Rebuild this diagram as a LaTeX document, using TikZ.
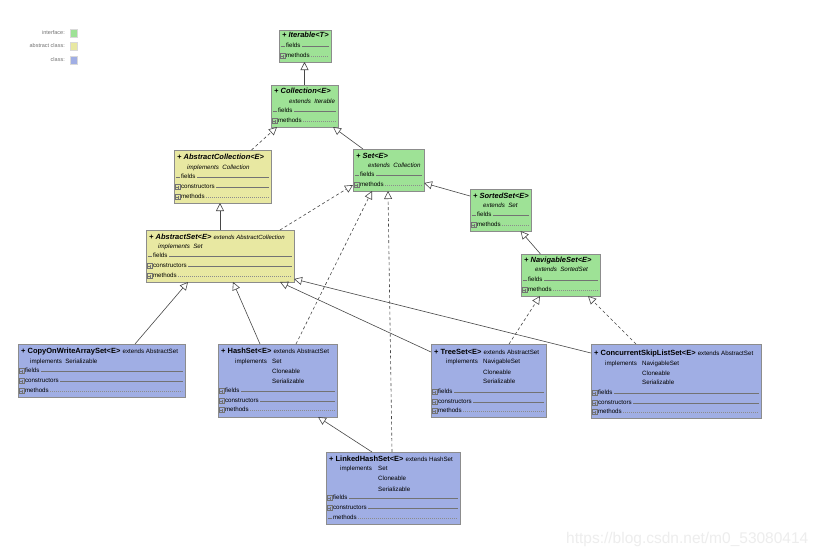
\documentclass[tikz,border=0pt]{standalone}
\usepackage{fontspec}
\setmainfont{Liberation Sans}
\usetikzlibrary{arrows.meta}
\definecolor{ifc}{RGB}{158,226,150}
\definecolor{abs}{RGB}{232,232,162}
\definecolor{cls}{RGB}{160,174,228}
\newcommand\smf{\fontsize{6.2}{7}\selectfont}
\tikzset{
  umlbox/.style={draw=black!45, line width=0.6pt, inner sep=0pt, outer sep=0pt, anchor=north west},
  ttl/.style={font=\fontsize{7.5}{8}\selectfont\bfseries, anchor=west, inner sep=0pt, text height=5.4pt, text depth=1.4pt},
  sm/.style={font=\smf, anchor=west, inner sep=0pt, text height=4.5pt, text depth=1.2pt},
  sep/.style={draw=black!55, line width=0.5pt},
  dsep/.style={draw=black!45, line width=0.5pt, dash pattern=on 1pt off 1pt},
  gen/.style={draw=black!72, line width=0.6pt, -{Triangle[open, width=8pt, length=8pt]}},
  real/.style={gen, dash pattern=on 3pt off 2.5pt},
  leg/.style={font=\fontsize{5.5}{6}\selectfont, text=black!55, anchor=east, inner sep=0pt},
  legsq/.style={draw=black!15, line width=0.3pt, minimum size=7.5pt, inner sep=0pt},
}
\newcommand\ubox[6]{\node[umlbox,fill=#6,minimum width=#4pt,minimum height=#5pt] (#1) at (#2,#3) {};}
\newcommand\prow[6]{%
  \draw[sep] (#2+1.5,#4-2.3) rectangle (#2+6.1,#4+2.3);
  \draw[sep] (#2+2.3,#4) -- (#2+5.3,#4) (#2+3.8,#4-1.5) -- (#2+3.8,#4+1.5);
  \node[sm] (#1) at (#2+6.8,#4) {#5};
  \draw[#6] ([xshift=1.5pt]#1.east) -- (#3-2.5,#4);
}
\newcommand\drow[6]{%
  \draw[sep] (#2+1.5,#4) -- (#2+5.5,#4);
  \node[sm] (#1) at (#2+6.8,#4) {#5};
  \draw[#6] ([xshift=1.5pt]#1.east) -- (#3-2.5,#4);
}
\begin{document}
\begin{tikzpicture}[x=1pt,y=-1pt]
\useasboundingbox[fill=white] (0,0) rectangle (823,557);

% legend
\node[leg] (l1) at (65,33) {interface:};
\node[legsq,fill=ifc] (s1) at (73.5,33) {};
\node[leg] (l2) at (65,46) {abstract class:};
\node[legsq,fill=abs] (s2) at (73.5,46) {};
\node[leg] (l3) at (65,60) {class:};
\node[legsq,fill=cls] (s3) at (73.5,60) {};

% Iterable
\ubox{iter}{279}{30}{52}{32}{ifc}
\node[ttl] (iterT) at (282,35.5) {\itshape + Iterable<T>};
\drow{iterF}{279}{331}{46}{fields}{sep}
\prow{iterM}{279}{331}{56}{methods}{dsep}

% Collection
\ubox{coll}{271}{85}{67}{42}{ifc}
\node[ttl] (collT) at (274,91.5) {\itshape + Collection<E>};
\node[sm] (collX) at (289,102) {\itshape extends\ \ Iterable};
\drow{collF}{271}{338}{111}{fields}{sep}
\prow{collM}{271}{338}{121}{methods}{dsep}

% AbstractCollection
\ubox{abscoll}{174}{150}{97}{53}{abs}
\node[ttl] (abscollT) at (177,157) {\itshape + AbstractCollection<E>};
\node[sm] (abscollX) at (187,168) {\itshape implements\ \ Collection};
\drow{abscollF}{174}{271}{177}{fields}{sep}
\prow{abscollC}{174}{271}{187}{constructors}{sep}
\prow{abscollM}{174}{271}{197}{methods}{dsep}

% Set
\ubox{set}{353}{149}{71}{42}{ifc}
\node[ttl] (setT) at (356,156) {\itshape + Set<E>};
\node[sm] (setX) at (368,166) {\itshape extends\ \ Collection};
\drow{setF}{353}{424}{175}{fields}{sep}
\prow{setM}{353}{424}{185}{methods}{dsep}

% SortedSet
\ubox{sorted}{470}{189}{61}{42}{ifc}
\node[ttl] (sortedT) at (473,196) {\itshape + SortedSet<E>};
\node[sm] (sortedX) at (483,206) {\itshape extends\ \ Set};
\drow{sortedF}{470}{531}{215}{fields}{sep}
\prow{sortedM}{470}{531}{225}{methods}{dsep}

% NavigableSet
\ubox{nav}{521}{254}{79}{42}{ifc}
\node[ttl] (navT) at (524,260) {\itshape + NavigableSet<E>};
\node[sm] (navX) at (535,270) {\itshape extends\ \ SortedSet};
\drow{navF}{521}{600}{280}{fields}{sep}
\prow{navM}{521}{600}{290}{methods}{dsep}

% AbstractSet
\ubox{absset}{146}{230}{148}{52}{abs}
\node[ttl] (abssetT) at (149,237) {\itshape + AbstractSet<E> {\fontsize{6}{7}\selectfont\mdseries extends AbstractCollection}};
\node[sm] (abssetX) at (158,247) {\itshape implements\ \ Set};
\drow{abssetF}{146}{294}{256}{fields}{sep}
\prow{abssetC}{146}{294}{266}{constructors}{sep}
\prow{abssetM}{146}{294}{276}{methods}{dsep}

% CopyOnWriteArraySet
\ubox{cow}{18}{344}{167}{53}{cls}
\node[ttl] (cowT) at (21,351) {+ CopyOnWriteArraySet<E> {\smf\mdseries extends AbstractSet}};
\node[sm] (cowX) at (30,362) {implements\ \ Serializable};
\prow{cowF}{18}{185}{371}{fields}{sep}
\prow{cowC}{18}{185}{381}{constructors}{sep}
\prow{cowM}{18}{185}{391}{methods}{dsep}

% HashSet
\ubox{hash}{218}{344}{119}{73}{cls}
\node[ttl] (hashT) at (221,351) {+ HashSet<E> {\smf\mdseries extends AbstractSet}};
\node[sm] (hashI) at (235,362) {implements};
\node[sm] (hashI1) at (272,362) {Set};
\node[sm] (hashI2) at (272,372) {Cloneable};
\node[sm] (hashI3) at (272,382) {Serializable};
\prow{hashF}{218}{337}{391}{fields}{sep}
\prow{hashC}{218}{337}{401}{constructors}{sep}
\prow{hashM}{218}{337}{410}{methods}{dsep}

% TreeSet
\ubox{tree}{431}{344}{115}{73}{cls}
\node[ttl] (treeT) at (434,352) {+ TreeSet<E> {\smf\mdseries extends AbstractSet}};
\node[sm] (treeI) at (446,362) {implements};
\node[sm] (treeI1) at (483,362) {NavigableSet};
\node[sm] (treeI2) at (483,373) {Cloneable};
\node[sm] (treeI3) at (483,382) {Serializable};
\prow{treeF}{431}{546}{392}{fields}{sep}
\prow{treeC}{431}{546}{402}{constructors}{sep}
\prow{treeM}{431}{546}{411}{methods}{dsep}

% ConcurrentSkipListSet
\ubox{csls}{591}{344}{170}{74}{cls}
\node[ttl] (cslsT) at (594,353) {+ ConcurrentSkipListSet<E> {\smf\mdseries extends AbstractSet}};
\node[sm] (cslsI) at (605,364) {implements};
\node[sm] (cslsI1) at (642,364) {NavigableSet};
\node[sm] (cslsI2) at (642,374) {Cloneable};
\node[sm] (cslsI3) at (642,383) {Serializable};
\prow{cslsF}{591}{761}{393}{fields}{sep}
\prow{cslsC}{591}{761}{403}{constructors}{sep}
\prow{cslsM}{591}{761}{412}{methods}{dsep}

% LinkedHashSet
\ubox{lhs}{326}{452}{134}{72}{cls}
\node[ttl] (lhsT) at (329,459) {+ LinkedHashSet<E> {\smf\mdseries extends HashSet}};
\node[sm] (lhsI) at (340,469) {implements};
\node[sm] (lhsI1) at (378,469) {Set};
\node[sm] (lhsI2) at (378,479) {Cloneable};
\node[sm] (lhsI3) at (378,490) {Serializable};
\prow{lhsF}{326}{460}{498}{fields}{sep}
\prow{lhsC}{326}{460}{508}{constructors}{sep}
\drow{lhsM}{326}{460}{518}{methods}{dsep}

% connectors
\draw[gen] (coll.north) -- (coll.north |- iter.south);
\draw[real] ([xshift=29pt]abscoll.north) -- ([xshift=6pt]coll.south west);
\draw[gen] ([xshift=10pt]set.north west) -- ([xshift=-5pt]coll.south east);
\draw[gen] (absset.north) -- (absset.north |- abscoll.south);
\draw[real] ([xshift=-14pt]absset.north east) -- ([yshift=6pt]set.south west);
\draw[gen] ([yshift=-7pt]sorted.north west) -- ([yshift=8pt]set.south east);
\draw[gen] ([xshift=-20pt]nav.north) -- ([xshift=20pt]sorted.south);
\draw[gen] ([xshift=-50pt]cow.north east) -- ([xshift=42pt]absset.south west);
\draw[gen] ([xshift=42pt]hash.north west) -- ([xshift=87pt]absset.south west);
\draw[real] ([xshift=78pt]hash.north west) -- ([xshift=19pt]set.south west);
\draw[gen] ([yshift=-8pt]tree.north west) -- ([xshift=-14pt]absset.south east);
\draw[real] ([xshift=78pt]tree.north west) -- ([xshift=19pt]nav.south west);
\draw[gen] ([yshift=-9pt]csls.north west) -- ([yshift=3pt]absset.south east);
\draw[real] ([xshift=45pt]csls.north west) -- ([xshift=-12pt]nav.south east);
\draw[gen] ([xshift=46pt]lhs.north west) -- ([xshift=-19pt]hash.south east);
\draw[real] ([xshift=66pt]lhs.north west) -- ([xshift=35pt]set.south west);

% watermark
\node[anchor=west, inner sep=0pt, font=\fontsize{15.5}{16}\selectfont, text=black!7] (wm) at (566,539) {https://blog.csdn.net/m0\_53080414};
\end{tikzpicture}
\end{document}
